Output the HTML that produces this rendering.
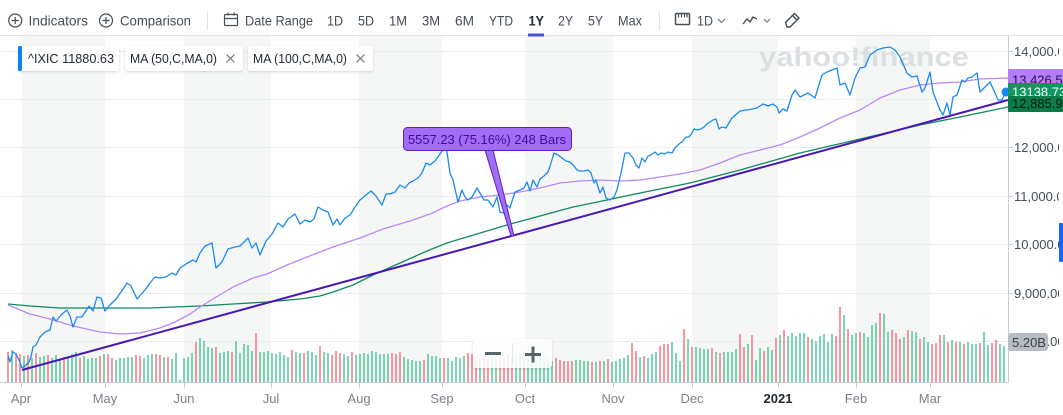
<!DOCTYPE html>
<html>
<head>
<meta charset="utf-8">
<style>
  html,body{margin:0;padding:0;background:#fff;}
  body{width:1063px;height:415px;overflow:hidden;}
  svg{display:block;font-family:"Liberation Sans",Arial,sans-serif;}
</style>
</head>
<body>
<svg width="1063" height="415" viewBox="0 0 1063 415" xmlns="http://www.w3.org/2000/svg">
  <defs>
    <filter id="sh" x="-10%" y="-30%" width="120%" height="160%">
      <feDropShadow dx="0" dy="1" stdDeviation="1.2" flood-color="#000" flood-opacity="0.16"/>
    </filter>
    <clipPath id="axclip"><rect x="1008" y="36" width="51" height="350"/></clipPath>
  </defs>

  <!-- month stripes -->
  <g fill="#f5f7f7">
    <rect x="22" y="36" width="83" height="346"/>
    <rect x="184" y="36" width="87" height="346"/>
    <rect x="359" y="36" width="83" height="346"/>
    <rect x="525" y="36" width="88" height="346"/>
    <rect x="692" y="36" width="86" height="346"/>
    <rect x="856" y="36" width="74" height="346"/>
  </g>

  <!-- grid lines -->
  <g stroke="#ebeef0" stroke-width="1">
    <line x1="0" y1="51.5" x2="1008" y2="51.5"/>
    <line x1="0" y1="99.5" x2="1008" y2="99.5"/>
    <line x1="0" y1="147.5" x2="1008" y2="147.5"/>
    <line x1="0" y1="196.5" x2="1008" y2="196.5"/>
    <line x1="0" y1="244.5" x2="1008" y2="244.5"/>
    <line x1="0" y1="293.5" x2="1008" y2="293.5"/>
    <line x1="0" y1="341.5" x2="1008" y2="341.5"/>
  </g>

  <!-- toolbar bottom border -->
  <line x1="0" y1="35.5" x2="1063" y2="35.5" stroke="#e0e4e9" stroke-width="1"/>

  <!-- watermark -->
  <text x="759" y="66" font-size="27" font-weight="bold" fill="#dde0e3" textLength="210" lengthAdjust="spacingAndGlyphs">yahoo!finance</text>

  <!-- volume bars -->
  <path stroke="#34c08c" stroke-width="1.3" fill="none" d="M12 382v-32M24 382v-26M32 382v-24M40 382v-25M44 382v-26M52 382v-24M56 382v-27M60 382v-22M68 382v-26M72 382v-28M76 382v-30M84 382v-26M88 382v-23M92 382v-24M96 382v-24M104 382v-28M116 382v-22M120 382v-24M124 382v-24M128 382v-25M132 382v-25M144 382v-24M148 382v-27M152 382v-28M164 382v-25M172 382v-23M176 382v-29M180 382v-2M184 382v-24M188 382v-25M192 382v-29M200 382v-44M204 382v-41M208 382v-35M212 382v-34M220 382v-29M224 382v-30M228 382v-31M236 382v-41M240 382v-29M244 382v-38M248 382v-37M252 382v-31M260 382v-30M264 382v-30M268 382v-31M272 382v-29M276 382v-28M280 382v-30M284 382v-27M288 382v-25M296 382v-30M300 382v-29M308 382v-31M312 382v-30M316 382v-27M324 382v-30M328 382v-29M344 382v-28M348 382v-26M356 382v-27M360 382v-28M364 382v-29M368 382v-28M372 382v-31M376 382v-30M380 382v-28M384 382v-28M388 382v-28M404 382v-25M408 382v-23M412 382v-22M416 382v-21M420 382v-21M428 382v-28M432 382v-26M436 382v-26M440 382v-24M448 382v-24M452 382v-21M456 382v-25M460 382v-24M464 382v-26M480 382v-23M492 382v-25M496 382v-26M516 382v-26M520 382v-27M528 382v-26M532 382v-26M536 382v-24M540 382v-26M544 382v-26M548 382v-23M552 382v-21M576 382v-22M580 382v-22M584 382v-21M588 382v-21M596 382v-20M604 382v-21M612 382v-20M616 382v-21M620 382v-23M624 382v-24M628 382v-27M640 382v-25M648 382v-24M652 382v-28M656 382v-30M672 382v-40M676 382v-29M680 382v-21M688 382v-43M696 382v-35M700 382v-34M704 382v-33M708 382v-33M716 382v-30M724 382v-30M728 382v-30M732 382v-30M736 382v-33M748 382v-38M756 382v-22M760 382v-34M768 382v-35M772 382v-32M780 382v-47M788 382v-46M792 382v-49M796 382v-46M800 382v-49M804 382v-49M812 382v-43M816 382v-41M820 382v-46M824 382v-48M828 382v-40M832 382v-48M844 382v-67M852 382v-47M856 382v-49M864 382v-49M868 382v-45M872 382v-57M876 382v-59M884 382v-68M888 382v-50M904 382v-45M912 382v-51M916 382v-50M924 382v-45M928 382v-40M944 382v-47M952 382v-42M960 382v-40M968 382v-40M972 382v-38M976 382v-38M984 382v-50M988 382v-37M1000 382v-38M1004 382v-36"/>
  <path stroke="#fb5c6c" stroke-width="1.3" fill="none" d="M8 382v-30M16 382v-29M20 382v-28M28 382v-27M36 382v-29M48 382v-27M64 382v-25M80 382v-24M100 382v-26M108 382v-28M112 382v-24M136 382v-27M140 382v-26M156 382v-28M160 382v-27M168 382v-25M196 382v-40M216 382v-35M232 382v-30M256 382v-49M292 382v-32M304 382v-29M320 382v-36M332 382v-27M336 382v-31M340 382v-29M352 382v-30M392 382v-29M396 382v-28M400 382v-30M424 382v-22M444 382v-24M468 382v-29M472 382v-28M476 382v-27M484 382v-25M488 382v-24M500 382v-25M504 382v-24M508 382v-27M512 382v-25M524 382v-25M556 382v-24M560 382v-22M564 382v-21M568 382v-21M572 382v-21M592 382v-20M600 382v-21M608 382v-23M632 382v-39M636 382v-31M644 382v-26M660 382v-36M664 382v-38M668 382v-38M684 382v-53M692 382v-35M712 382v-34M720 382v-29M740 382v-48M744 382v-35M752 382v-47M764 382v-31M776 382v-44M784 382v-52M808 382v-45M836 382v-46M840 382v-75M848 382v-53M860 382v-50M880 382v-69M892 382v-52M896 382v-49M900 382v-43M908 382v-52M920 382v-43M932 382v-38M936 382v-39M940 382v-47M948 382v-40M956 382v-40M964 382v-38M980 382v-39M992 382v-39M996 382v-42"/>

  <!-- MA100 -->
  <polyline fill="none" stroke="#108a5c" stroke-width="1.3" stroke-linejoin="round" points="8,304 30,306 60,308 100,308 150,308 200,306 233,304 267,302 300,299 320,296 333,292 353,285 373,275 400,263 427,251 447,243 460,239 507,225 573,207 607,200 640,193 690,183 740,170 800,153 860,139 920,125 960,117 1008,107"/>
  <!-- MA50 -->
  <polyline fill="none" stroke="#bb86f7" stroke-width="1.3" stroke-linejoin="round" points="8,305 30,314 50,319 73,326 100,332 120,334 140,333 160,328 175,322 190,314 200,307 213,299 233,287 253,278 267,274 287,265 307,257 333,247 360,238 383,229 410,221 430,214 447,206 460,201 480,197 500,195 520,192 540,188 560,183 580,181 600,180 620,181 640,180 660,177 680,174 700,170 720,163 740,155 760,150 780,145 800,137 820,128 840,118 860,110 880,98 900,90 920,85 940,83 960,82 980,79 1008,78"/>
  <!-- price -->
  <polyline fill="none" stroke="#1a8af0" stroke-width="1.3" stroke-linejoin="round" points="8,355 10,362 13,352 16,354 19,360 22,368 25,366 29,362 31,357 33,347 36,345 40,337 45,332 50,330 53,317 56,321 62,314 67,310 70,316 73,327 77,317 82,317 89,306 93,311 97,297 101,298 105,311 110,305 116,299 121,292 127,283 131,286 137,299 145,290 150,283 155,277 160,278 166,277 172,273 176,275 180,268 186,264 193,260 196,262 200,253 205,246 212,243 216,268 222,262 228,249 235,247 240,246 248,238 252,248 256,243 260,255 266,241 272,234 278,223 283,227 288,219 295,214 300,224 305,220 310,222 314,219 318,207 323,210 328,212 333,225 337,219 340,225 345,218 350,215 355,207 360,200 366,195 371,191 376,196 382,205 386,194 390,194 395,192 400,185 405,188 409,183 413,181 418,178 422,173 426,163 430,165 435,161 440,154 446,145 450,173 453,180 458,202 462,190 465,197 468,200 472,197 477,188 481,195 484,200 488,200 493,207 497,197 500,212 504,213 507,205 510,208 513,198 515,192 520,190 524,188 527,182 530,191 533,180 537,187 540,179 544,176 548,172 551,163 554,153 558,155 562,158 566,161 570,162 574,166 577,170 580,171 584,171 588,170 591,173 594,183 596,180 598,187 600,193 603,187 606,198 610,200 614,197 617,190 621,173 625,153 629,153 633,158 636,165 639,168 642,158 645,162 648,156 651,155 655,152 658,155 661,153 665,154 668,152 672,153 675,148 679,144 683,141 686,137 689,137 692,133 694,129 697,130 701,129 704,127 707,124 710,122 713,120 716,119 719,129 722,127 726,128 732,118 740,111 747,110 752,109 757,108 763,104 768,106 773,104 777,107 779,113 783,109 787,111 792,95 795,90 800,97 808,93 815,98 822,75 827,72 837,68 840,85 845,83 850,95 855,78 860,68 865,67 870,55 877,50 883,48 890,47 895,50 900,57 907,73 912,77 917,76 922,92 925,88 930,72 933,92 940,110 943,115 947,103 950,115 953,97 957,95 962,80 965,82 968,78 972,77 977,73 980,92 985,87 990,82 995,93 998,100 1002,100 1005,93"/>

  <!-- trendline -->
  <line x1="22" y1="370" x2="1008" y2="100" stroke="#4a17b5" stroke-width="2"/>

  <!-- annotation -->
  <polygon points="485,150 493,150 514,236 511,236" fill="#a36cf5" stroke="#5a22c4" stroke-width="1"/>
  <rect x="403.5" y="127.5" width="168" height="23" rx="4" fill="#a36cf5" stroke="#5a22c4" stroke-width="1"/>
  <text x="408" y="144" font-size="13" fill="#3b0f99" textLength="158" lengthAdjust="spacingAndGlyphs">5557.23 (75.16%) 248 Bars</text>

  <!-- zoom control -->
  <rect x="473" y="339" width="79" height="29" rx="3" fill="#ffffff" fill-opacity="0.85" filter="url(#sh)"/>
  <line x1="512.5" y1="343" x2="512.5" y2="364" stroke="#e3e5e8"/>
  <rect x="485" y="352" width="16" height="3" fill="#5b636a"/>
  <rect x="525" y="353" width="16" height="3" fill="#5b636a"/>
  <rect x="531.5" y="346.5" width="3" height="16" fill="#5b636a"/>

  <!-- axes -->
  <line x1="1008.5" y1="36" x2="1008.5" y2="383" stroke="#c9ced4"/>
  <line x1="0" y1="382.5" x2="1008" y2="382.5" stroke="#c9ced4"/>
  <g stroke="#c9ced4">
    <line x1="1008" y1="51.5" x2="1013" y2="51.5"/>
    <line x1="1008" y1="99.5" x2="1013" y2="99.5"/>
    <line x1="1008" y1="147.5" x2="1013" y2="147.5"/>
    <line x1="1008" y1="196.5" x2="1013" y2="196.5"/>
    <line x1="1008" y1="244.5" x2="1013" y2="244.5"/>
    <line x1="1008" y1="293.5" x2="1013" y2="293.5"/>
    <line x1="1008" y1="341.5" x2="1013" y2="341.5"/>
    <line x1="21.5" y1="382" x2="21.5" y2="388"/>
    <line x1="105.5" y1="382" x2="105.5" y2="388"/>
    <line x1="184.5" y1="382" x2="184.5" y2="388"/>
    <line x1="271.5" y1="382" x2="271.5" y2="388"/>
    <line x1="359.5" y1="382" x2="359.5" y2="388"/>
    <line x1="442.5" y1="382" x2="442.5" y2="388"/>
    <line x1="525.5" y1="382" x2="525.5" y2="388"/>
    <line x1="613.5" y1="382" x2="613.5" y2="388"/>
    <line x1="692.5" y1="382" x2="692.5" y2="388"/>
    <line x1="778.5" y1="382" x2="778.5" y2="388"/>
    <line x1="856.5" y1="382" x2="856.5" y2="388"/>
    <line x1="930.5" y1="382" x2="930.5" y2="388"/>
  </g>

  <!-- y labels (clipped like reference) -->
  <g font-size="13" fill="#464e56" clip-path="url(#axclip)">
    <text x="1014" y="56">14,000.00</text>
    <text x="1014" y="152">12,000.00</text>
    <text x="1014" y="201">11,000.00</text>
    <text x="1014" y="249">10,000.00</text>
    <text x="1014" y="298">9,000.00</text>
    <text x="1014" y="346">8,000.00</text>
  </g>

  <!-- current price dot -->
  <circle cx="1006" cy="92" r="4.5" fill="#1a8af0"/>

  <!-- value labels -->
  <rect x="1008" y="69" width="60" height="16" fill="#b57df8"/>
  <text x="1012" y="84.5" font-size="13" fill="#2a1050">13,426.51</text>
  <rect x="1008" y="83" width="60" height="14" fill="#0f9960"/>
  <text x="1012" y="96.5" font-size="13" fill="#ffffff">13138.73</text>
  <rect x="1008" y="96" width="60" height="16" fill="#0a7c48"/>
  <text x="1012" y="108" font-size="13" fill="#0b1a12">12,885.91</text>

  <rect x="1008" y="333" width="40" height="18" rx="3" fill="#b8bdc4"/>
  <text x="1012" y="347" font-size="13" fill="#3b4148">5.20B</text>

  <!-- blue edge tab -->
  <rect x="1059" y="223" width="4" height="39" rx="1" fill="#0f69ff"/>

  <!-- x labels -->
  <g font-size="13" fill="#7b8289" text-anchor="middle">
    <text x="21" y="403">Apr</text>
    <text x="105" y="403">May</text>
    <text x="184" y="403">Jun</text>
    <text x="271" y="403">Jul</text>
    <text x="359" y="403">Aug</text>
    <text x="442" y="403">Sep</text>
    <text x="525" y="403">Oct</text>
    <text x="613" y="403">Nov</text>
    <text x="692" y="403">Dec</text>
    <text x="856" y="403">Feb</text>
    <text x="930" y="403">Mar</text>
  </g>
  <text x="778" y="403" font-size="13" font-weight="bold" fill="#232a31" text-anchor="middle">2021</text>

  <!-- legend chips -->
  <rect x="18" y="46" width="101" height="25" rx="3" fill="#fff" filter="url(#sh)"/>
  <rect x="18" y="46" width="4" height="25" rx="1.5" fill="#0a84f0"/>
  <text x="28" y="63" font-size="13" fill="#232a31" textLength="86" lengthAdjust="spacingAndGlyphs">^IXIC 11880.63</text>

  <rect x="125" y="46" width="118" height="25" rx="3" fill="#fff" filter="url(#sh)"/>
  <text x="130" y="63" font-size="13" fill="#232a31" textLength="87" lengthAdjust="spacingAndGlyphs">MA (50,C,MA,0)</text>
  <path d="M226.5 54.5l8 8M234.5 54.5l-8 8" stroke="#6e7780" stroke-width="1.2"/>

  <rect x="248" y="46" width="125" height="25" rx="3" fill="#fff" filter="url(#sh)"/>
  <text x="253" y="63" font-size="13" fill="#232a31" textLength="94" lengthAdjust="spacingAndGlyphs">MA (100,C,MA,0)</text>
  <path d="M356.5 54.5l8 8M364.5 54.5l-8 8" stroke="#6e7780" stroke-width="1.2"/>

  <!-- toolbar -->
  <g fill="none" stroke="#464e56" stroke-width="1.2">
    <circle cx="15.2" cy="20.5" r="6.5"/>
    <path d="M15.2 17v7M11.7 20.5h7"/>
    <circle cx="106" cy="20.5" r="6.5"/>
    <path d="M106 17v7M102.5 20.5h7"/>
    <rect x="224.5" y="14.5" width="13" height="11" rx="1"/>
    <path d="M224.5 18.5h13M228 12.5v3M234 12.5v3"/>
    <rect x="675.5" y="13.5" width="14" height="11" rx="1" stroke-width="1.5"/>
    <path d="M678.5 13.5v4M681.5 13.5v4M684.5 13.5v4M687 13.5v4"/>
    <path d="M718 19l3.5 3.5 3.5-3.5" stroke="#6e7780"/>
    <path d="M743 24l4-5 3 3 3-5 4 2" stroke-width="1.4"/>
    <path d="M764 19l3 3 3-3" stroke="#6e7780"/>
    <path d="M787 27l-1.5-4.5 9-9 4.5 4.5-9 9z M793 16l4 4" stroke-width="1.4"/>
  </g>
  <line x1="207.5" y1="11" x2="207.5" y2="30" stroke="#e0e4e9"/>
  <line x1="659.5" y1="11" x2="659.5" y2="30" stroke="#e0e4e9"/>

  <g font-size="14" fill="#464e56">
    <text x="28.5" y="25.5" textLength="59.5" lengthAdjust="spacingAndGlyphs">Indicators</text>
    <text x="120" y="25.5" textLength="71" lengthAdjust="spacingAndGlyphs">Comparison</text>
    <text x="245" y="25.5" textLength="68" lengthAdjust="spacingAndGlyphs">Date Range</text>
    <text x="327" y="25.5" textLength="16" lengthAdjust="spacingAndGlyphs">1D</text>
    <text x="358" y="25.5" textLength="16" lengthAdjust="spacingAndGlyphs">5D</text>
    <text x="389" y="25.5" textLength="18" lengthAdjust="spacingAndGlyphs">1M</text>
    <text x="422" y="25.5" textLength="18" lengthAdjust="spacingAndGlyphs">3M</text>
    <text x="455" y="25.5" textLength="19" lengthAdjust="spacingAndGlyphs">6M</text>
    <text x="489" y="25.5" textLength="24" lengthAdjust="spacingAndGlyphs">YTD</text>
    <text x="558" y="25.5" textLength="15" lengthAdjust="spacingAndGlyphs">2Y</text>
    <text x="588" y="25.5" textLength="15" lengthAdjust="spacingAndGlyphs">5Y</text>
    <text x="618" y="25.5" textLength="24" lengthAdjust="spacingAndGlyphs">Max</text>
    <text x="697" y="25.5" textLength="16" lengthAdjust="spacingAndGlyphs">1D</text>
  </g>
  <text x="528.5" y="25.5" font-size="14" font-weight="bold" fill="#232a31" textLength="15.5" lengthAdjust="spacingAndGlyphs">1Y</text>
  <rect x="528" y="33.5" width="16" height="3" fill="#4a4fd8"/>
</svg>
</body>
</html>
